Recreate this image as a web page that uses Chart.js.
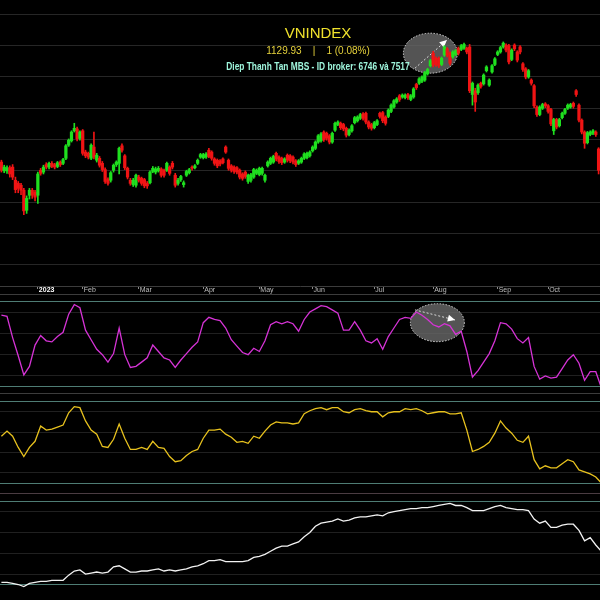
<!DOCTYPE html>
<html>
<head>
<meta charset="utf-8">
<script src="https://cdn.jsdelivr.net/npm/chart.js@4.4.0/dist/chart.umd.min.js"></script>
<style>
html, body { margin: 0; padding: 0; background: #000; width: 600px; height: 600px; overflow: hidden; }
canvas { position: absolute; left: 0; display: block; }
.sep { position: absolute; left: 0; width: 600px; height: 1px; }
.hd { position: absolute; left: 168px; width: 300px; text-align: center; white-space: nowrap; font-family: "Liberation Sans", Arial, sans-serif; }
</style>
</head>
<body>
<canvas id="cMain" width="600" height="294" style="top:0"></canvas>
<canvas id="cRsi" width="600" height="100" style="top:294px"></canvas>
<canvas id="cMid" width="600" height="99" style="top:394px"></canvas>
<canvas id="cLow" width="600" height="107" style="top:493px"></canvas>
<div class="sep" style="top:294px;background:#3c3c3c"></div>
<div class="sep" style="top:393px;background:#3c3c3c"></div>
<div class="sep" style="top:493px;background:#4a3c42"></div>

<div class="hd" style="top:25px;font-size:15px;line-height:15px;color:#f0e22c">VNINDEX</div>
<div class="hd" style="top:45px;font-size:10px;line-height:11px;color:#e6d23c">1129.93&nbsp;&nbsp;&nbsp;&nbsp;|&nbsp;&nbsp;&nbsp;&nbsp;1 (0.08%)</div>
<div class="hd" style="top:61px;font-size:11px;line-height:11px;font-weight:bold;color:#9ef5dc;transform:scaleX(0.76)">Diep Thanh Tan MBS - ID broker: 6746 và 7517</div>

<script>
// gia VNINDEX theo phien (mo, dong, cao, thap)
var openP = [1064,1050,1050,1055,1056,1035,1030,1027,1019,987, 1011,1019,1016,1011,1051,1048,1060,1056,1062,1060,
  1057,1064,1062,1070,1091,1098,1114,1117,1102,1114, 1080,1078,1070,1088,1067,1070,1062,1052,1036,1035,
  1051,1060,1062,1090,1074,1054,1035,1028,1027,1040, 1038,1036,1030,1031,1049,1048,1050,1053,1051,1051,
  1056,1062,1043,1030,1036,1028,1043,1047,1056,1055, 1062,1072,1071,1072,1083,1080,1069,1067,1066,1069,
  1088,1067,1058,1056,1055,1051,1045,1048,1033,1035, 1040,1046,1044,1046,1035,1058,1062,1064,1078,1072,
  1070,1064,1075,1074,1072,1066,1062,1064,1070,1071, 1074,1082,1086,1096,1098,1112,1110,1106,1096,1115,
  1124,1126,1124,1118,1108,1114,1127,1130,1134,1141, 1142,1128,1124,1119,1124,1142,1143,1136,1137,1145,
  1152,1160,1170,1168,1167,1172,1164,1168,1188,1190, 1193,1195,1205,1218,1238,1230,1230,1220,1235,1245,
  1238,1232,1236,1246,1244,1246,1246,1248,1172,1178, 1175,1190,1189,1210,1187,1208,1220,1236,1240,1248,
  1251,1250,1228,1251,1240,1248,1221,1213,1200,1195, 1186,1152,1140,1150,1157,1154,1148,1114,1132,1122,
  1135,1142,1150,1152,1158,1178,1155,1131,1112,1095, 1108,1110,1112,1085];
var closeP = [1051,1056,1055,1045,1040,1020,1022,1019,986,1006, 1019,1011,1008,1045,1046,1056,1056,1062,1057,1056,
  1063,1060,1068,1090,1099,1112,1118,1101,1112,1078, 1074,1072,1091,1072,1075,1059,1052,1033,1030,1047,
  1059,1064,1086,1083,1055,1040,1030,1035,1043,1035, 1030,1026,1026,1048,1054,1053,1054,1043,1043,1062,
  1046,1056,1027,1035,1041,1031,1049,1052,1054,1058, 1067,1076,1076,1077,1073,1070,1062,1058,1061,1063,
  1080,1054,1051,1049,1048,1040,1038,1041,1043,1044, 1052,1051,1054,1054,1043,1064,1070,1073,1069,1065,
  1063,1069,1067,1066,1064,1060,1066,1070,1077,1078, 1080,1088,1096,1106,1109,1100,1102,1096,1110,1126,
  1128,1119,1117,1107,1115,1122,1135,1136,1140,1134, 1128,1120,1118,1127,1130,1137,1130,1126,1147,1155,
  1162,1165,1164,1171,1171,1167,1170,1181,1183,1197, 1200,1207,1212,1226,1219,1220,1218,1230,1248,1235,
  1222,1240,1242,1238,1250,1252,1240,1178,1190,1160, 1187,1185,1203,1216,1195,1218,1229,1240,1247,1254,
  1243,1224,1243,1245,1227,1240,1212,1200,1210,1190, 1154,1140,1152,1156,1154,1145,1125,1132,1120,1132,
  1142,1148,1155,1156,1153,1172,1131,1112,1094,1111, 1112,1114,1108,1051];
var highP = [1067,1059,1058,1058,1060,1040,1033,1030,1022,1010, 1022,1022,1019,1048,1054,1059,1063,1064,1065,1062,
  1065,1066,1070,1092,1101,1114,1126,1120,1114,1116, 1083,1080,1093,1112,1078,1073,1065,1055,1039,1049,
  1061,1066,1088,1093,1076,1056,1038,1038,1045,1043, 1040,1038,1033,1050,1057,1056,1057,1055,1053,1064,
  1058,1065,1046,1038,1043,1034,1051,1054,1058,1060, 1069,1078,1078,1079,1086,1082,1071,1069,1068,1071,
  1090,1069,1060,1058,1057,1053,1047,1050,1045,1046, 1054,1053,1056,1056,1045,1066,1072,1075,1080,1074,
  1072,1071,1077,1076,1074,1068,1068,1072,1079,1080, 1082,1090,1098,1108,1111,1114,1112,1108,1112,1128,
  1130,1128,1126,1120,1117,1124,1137,1138,1142,1143, 1144,1130,1126,1129,1132,1144,1145,1138,1149,1157,
  1164,1167,1172,1173,1173,1174,1172,1183,1190,1199, 1202,1209,1214,1228,1241,1232,1232,1232,1250,1247,
  1240,1242,1244,1248,1252,1254,1248,1252,1192,1182, 1189,1192,1205,1218,1197,1220,1231,1242,1249,1256,
  1253,1252,1245,1253,1242,1250,1223,1215,1212,1197, 1188,1154,1154,1158,1159,1156,1150,1134,1134,1134,
  1144,1150,1157,1158,1160,1180,1157,1133,1114,1113, 1114,1116,1114,1087];
var lowP = [1048,1047,1046,1040,1036,1015,1015,1012,980,982, 1005,1006,1002,998,1043,1045,1053,1053,1055,1053,
  1055,1057,1060,1068,1089,1096,1112,1098,1099,1075, 1071,1069,1068,1069,1064,1056,1049,1030,1027,1032,
  1048,1057,1045,1080,1052,1037,1027,1025,1024,1032, 1027,1023,1022,1029,1047,1045,1048,1040,1040,1049,
  1043,1053,1024,1027,1033,1024,1041,1045,1051,1053, 1060,1070,1069,1070,1071,1067,1059,1055,1058,1061,
  1078,1051,1048,1046,1045,1037,1035,1038,1030,1032, 1038,1044,1042,1043,1032,1056,1060,1062,1066,1062,
  1060,1062,1064,1063,1061,1057,1060,1062,1068,1069, 1072,1080,1084,1094,1096,1097,1099,1093,1094,1113,
  1122,1116,1114,1104,1106,1112,1125,1128,1132,1131, 1125,1117,1115,1117,1122,1134,1127,1123,1135,1143,
  1150,1158,1161,1166,1165,1164,1162,1166,1180,1188, 1191,1193,1203,1216,1216,1217,1215,1218,1233,1232,
  1219,1230,1234,1235,1242,1244,1237,1175,1155,1145, 1172,1182,1187,1208,1185,1206,1218,1234,1238,1246,
  1240,1221,1226,1242,1224,1237,1209,1197,1198,1187, 1151,1137,1138,1148,1151,1142,1122,1108,1117,1120,
  1133,1140,1148,1150,1150,1169,1128,1109,1086,1093, 1106,1108,1105,1045];

// moc thang tren truc thoi gian (chi so phien)
var monthIdx = [13, 29, 49, 72, 92, 111, 133, 154, 177, 195];
var monthNames = ['2023', 'Feb', 'Mar', 'Apr', 'May', 'Jun', 'Jul', 'Aug', 'Sep', 'Oct'];
var priceGrid = [900, 950, 1000, 1050, 1100, 1150, 1200, 1250, 1300];
var paneGrid = [10, 20, 40, 60, 80, 90];

// chi bao, moi diem cach 2 phien
var rsiVals = [77,76,56,39,21,29,49,58,53,52, 57,61,78,87,84,63,54,45,40,33,
  41,65,40,28,29,33,37,49,43,37, 35,28,35,41,47,52,70,75,73,72,
  65,54,48,42,40,46,43,53,68,71, 69,71,69,62,73,80,83,86,85,82,
  79,63,63,71,63,53,51,55,45,57, 65,73,75,74,80,77,73,68,66,69,
  67,59,62,43,19,25,33,41,53,70, 69,64,55,51,56,29,17,20,18,19,
  27,35,40,32,16,24,24,9];
var midVals = [56,61,56,45,36,45,51,66,62,63, 65,67,79,85,84,71,62,58,46,45,
  53,68,54,43,43,45,43,51,45,44, 36,31,32,37,41,43,54,62,62,63,
  58,55,50,51,49,56,54,61,67,70, 69,69,68,69,78,81,83,84,82,84,
  84,80,79,82,83,81,80,80,75,79, 80,80,83,82,83,81,78,79,80,80,
  78,78,79,62,41,43,46,50,59,71, 64,59,52,50,56,33,24,27,25,25,
  29,33,31,23,21,19,16,10];
var lowVals = [12,12,11,10,8,11,12,13,13,14, 14,14,19,23,24,20,21,22,21,22,
  27,28,25,22,22,23,23,24,25,23, 24,23,24,25,27,28,30,33,33,34,
  32,32,32,32,33,36,37,39,42,45, 47,47,49,51,56,60,66,69,70,71,
  73,71,72,74,75,75,76,77,76,79, 80,81,82,83,83,84,84,85,86,87,
  88,86,86,84,81,81,81,83,85,86, 84,83,82,82,81,73,69,71,65,65,
  67,68,68,62,52,55,48,42];

var upColor = '#1fe01f', downColor = '#f01414';
var candleColors = openP.map(function (o, i) { return closeP[i] >= o ? upColor : downColor; });

// vung ghi chu (elip + mui ten), toa do theo du lieu
var noteMain = { cx: 153, cy: 1238, rx: 27, ry: 20, ax0: 147.5, ay0: 1214, ax1: 158.9, ay1: 1259 };
var noteRsi = { cx: 155.5, cy: 70, rx: 27, ry: 19, ax0: 147.5, ay0: 82, ax1: 161.8, ay1: 72.5 };

function drawNote(chart, n) {
    var ctx = chart.ctx, x = chart.scales.x, y = chart.scales.y;
    var cx = x.getPixelForValue(n.cx), cy = y.getPixelForValue(n.cy);
    ctx.save();
    ctx.beginPath();
    ctx.ellipse(cx, cy, n.rx, n.ry, 0, 0, Math.PI * 2);
    ctx.fillStyle = 'rgba(105,105,105,0.8)';
    ctx.fill();
    ctx.setLineDash([1.5, 1.5]);
    ctx.strokeStyle = '#d8d8d8';
    ctx.lineWidth = 1;
    ctx.stroke();
    var x0 = x.getPixelForValue(n.ax0), y0 = y.getPixelForValue(n.ay0);
    var x1 = x.getPixelForValue(n.ax1), y1 = y.getPixelForValue(n.ay1);
    ctx.setLineDash([2, 2]);
    ctx.beginPath();
    ctx.moveTo(x0, y0);
    ctx.lineTo(x1, y1);
    ctx.stroke();
    var a = Math.atan2(y1 - y0, x1 - x0);
    ctx.setLineDash([]);
    ctx.fillStyle = '#ffffff';
    ctx.beginPath();
    ctx.moveTo(x1, y1);
    ctx.lineTo(x1 - 8 * Math.cos(a - 0.45), y1 - 8 * Math.sin(a - 0.45));
    ctx.lineTo(x1 - 8 * Math.cos(a + 0.45), y1 - 8 * Math.sin(a + 0.45));
    ctx.closePath();
    ctx.fill();
    ctx.restore();
}

function hiddenY(min, max, ticks, colorFn) {
    return {
        min: min, max: max,
        afterFit: function (s) { s.width = 0; },
        afterBuildTicks: function (s) { s.ticks = ticks.map(function (v) { return { value: v }; }); },
        ticks: { display: false },
        border: { display: false },
        grid: { drawTicks: false, color: colorFn }
    };
}

var candleBody = openP.map(function (o, i) { return { x: i, y: [o, closeP[i]] }; });
var candleWick = openP.map(function (o, i) { return { x: i, y: [lowP[i], highP[i]] }; });

new Chart(document.getElementById('cMain'), {
    type: 'bar',
    data: {
        datasets: [
            { data: candleWick, backgroundColor: candleColors, barThickness: 1, grouped: false, order: 2 },
            { data: candleBody, backgroundColor: candleColors, barThickness: 2.6, grouped: false, order: 1 }
        ]
    },
    options: {
        responsive: false,
        animation: false,
        layout: { padding: 0 },
        plugins: { legend: { display: false }, tooltip: { enabled: false } },
        scales: {
            x: {
                type: 'linear', min: -0.5, max: 213.5, offset: false,
                afterBuildTicks: function (s) { s.ticks = monthIdx.map(function (v) { return { value: v }; }); },
                afterFit: function (s) { s.height = 8; },
                grid: { offset: false, drawOnChartArea: false, tickLength: 3, tickColor: '#8a8a8a' },
                border: { color: '#3c3c3c' },
                ticks: {
                    autoSkip: false, maxRotation: 0, align: 'start', padding: -3, labelOffset: 1,
                    color: function (c) { return c.index === 0 ? '#ffffff' : '#bdbdbd'; },
                    font: function (c) { return { size: 7, family: 'Liberation Sans, Arial', weight: c.index === 0 ? 'bold' : 'normal' }; },
                    callback: function (v, i) { return monthNames[i]; }
                }
            },
            y: hiddenY(866, 1323, priceGrid, '#262626')
        }
    },
    plugins: [{ id: 'noteMain', beforeDatasetsDraw: function (chart) { drawNote(chart, noteMain); } }]
});

function paneColor(c) {
    var v = c.tick ? c.tick.value : 0;
    return (v === 10 || v === 90) ? '#4e7c74' : '#202020';
}

function makePane(id, vals, color, min, max, note) {
    var plugins = [];
    if (note) plugins.push({ id: id + 'note', beforeDatasetsDraw: function (chart) { drawNote(chart, note); } });
    return new Chart(document.getElementById(id), {
        type: 'line',
        data: {
            datasets: [{
                data: vals.map(function (v, k) { return { x: k * 2, y: v }; }),
                borderColor: color, borderWidth: 1.3, pointRadius: 0, tension: 0, fill: false
            }]
        },
        options: {
            responsive: false,
            animation: false,
            layout: { padding: 0 },
            plugins: { legend: { display: false }, tooltip: { enabled: false } },
            scales: {
                x: { type: 'linear', min: -0.5, max: 213.5, display: false },
                y: hiddenY(min, max, paneGrid, paneColor)
            }
        },
        plugins: plugins
    });
}

makePane('cRsi', rsiVals, '#d633d6', 3.1, 96.9, noteRsi);
makePane('cMid', midVals, '#e8c21e', 0.3, 97.4, null);
makePane('cLow', lowVals, '#f2f2f2', -4.9, 98.0, null);
</script>
</body>
</html>
